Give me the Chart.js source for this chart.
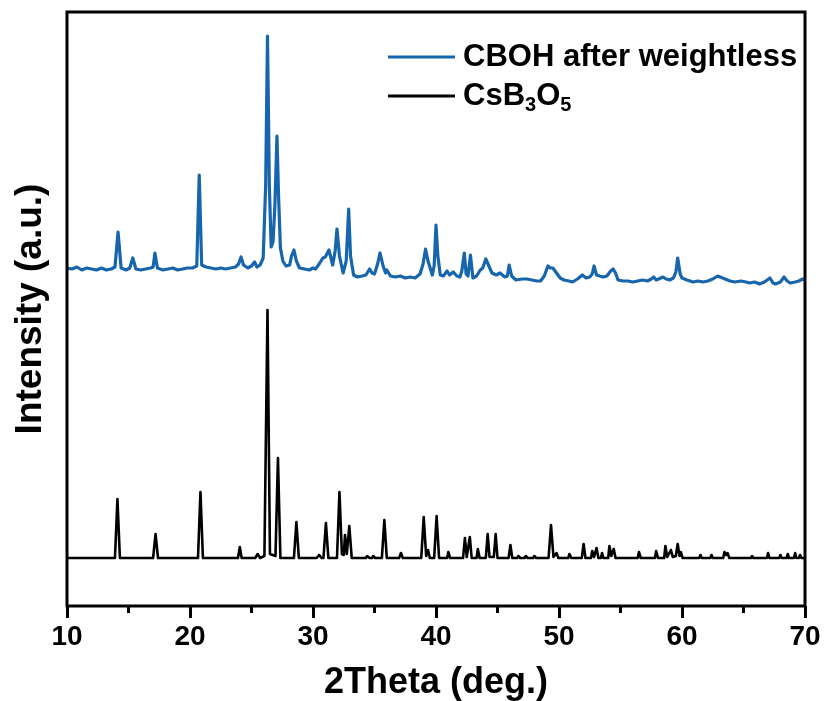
<!DOCTYPE html>
<html>
<head>
<meta charset="utf-8">
<script src="https://cdn.jsdelivr.net/npm/chart.js@4.4.0/dist/chart.umd.min.js"></script>
<style>
html, body { margin: 0; padding: 0; background: #fff; }
#wrap { width: 826px; height: 701px; position: relative; }
</style>
</head>
<body>
<div id="wrap"><canvas id="xrd"></canvas></div>
<script>
// CBOH after weightless (measured pattern, offset upward)
const blueTheta = [
    10.0, 10.4, 10.8, 11.2, 11.6, 12.0, 12.4, 12.8, 13.2, 13.6, 13.9, 14.15, 14.4, 14.8, 15.1, 15.35, 15.6,
    16.0, 16.4, 16.8, 17.0, 17.15, 17.35, 17.8, 18.2, 18.6, 19.0, 19.4, 19.8, 20.2, 20.55, 20.75, 20.95,
    21.3, 21.7, 22.1, 22.5, 22.9, 23.3, 23.7, 23.95, 24.15, 24.35, 24.7, 25.0, 25.25, 25.45, 25.7, 25.95,
    26.15, 26.3, 26.45, 26.6, 26.75, 26.9, 27.07, 27.2, 27.35, 27.55, 27.8, 28.1, 28.25, 28.45, 28.65,
    28.9, 29.3, 29.7, 30.0, 30.2, 30.5, 30.8, 31.0, 31.3, 31.6, 31.8, 31.95, 32.15, 32.45, 32.7, 32.9,
    33.05, 33.3, 33.6, 34.0, 34.3, 34.6, 34.8, 35.0, 35.25, 35.45, 35.7, 35.9, 36.0, 36.3, 36.7, 37.1,
    37.5, 37.9, 38.3, 38.7, 38.95, 39.15, 39.35, 39.7, 39.85, 40.0, 40.15, 40.35, 40.6, 40.9, 41.1, 41.4,
    41.7, 41.95, 42.1, 42.3, 42.45, 42.6, 42.8, 43.0, 43.3, 43.6, 43.8, 44.05, 44.3, 44.55, 44.9, 45.2,
    45.6, 45.8, 45.95, 46.15, 46.5, 47.0, 47.4, 47.8, 48.2, 48.5, 48.8, 49.1, 49.3, 49.5, 49.8, 50.1,
    50.4, 50.8, 51.1, 51.5, 51.9, 52.2, 52.5, 52.7, 52.85, 53.05, 53.3, 53.6, 53.9, 54.2, 54.4, 54.6,
    54.8, 55.2, 55.6, 56.0, 56.4, 56.8, 57.2, 57.5, 57.7, 57.9, 58.1, 58.45, 58.7, 59.0, 59.3, 59.5,
    59.65, 59.85, 60.0, 60.4, 60.9, 61.3, 61.7, 62.1, 62.5, 62.9, 63.3, 63.9, 64.3, 64.8, 65.2, 65.5,
    65.9, 66.3, 66.7, 67.15, 67.4, 67.6, 68.0, 68.3, 68.55, 68.8, 69.2, 69.5, 69.8, 70.0
]
const blueCounts = [
    338, 337, 339, 336, 338, 337, 336, 338, 336, 337, 339, 374, 338, 336, 338, 348, 337,
    336, 337, 338, 339, 353, 338, 336, 337, 338, 336, 337, 338, 338, 340, 431, 341,
    339, 338, 337, 338, 337, 338, 339, 342, 349, 341, 338, 340, 344, 339, 341, 348,
    420, 570, 420, 359, 364, 400, 470, 410, 358, 345, 340, 341, 350, 356, 345,
    338, 337, 336, 338, 337, 342, 348, 349, 356, 341, 355, 377, 350, 333, 345, 397,
    350, 331, 329, 330, 331, 337, 333, 332, 342, 353, 340, 333, 336, 330, 329, 330,
    328, 329, 328, 332, 342, 357, 345, 331, 340, 381, 350, 331, 330, 335, 331, 334,
    330, 329, 335, 353, 332, 330, 351, 328, 330, 336, 338, 347, 340, 333, 331, 333,
    329, 330, 341, 330, 326, 327, 327, 326, 325, 325, 330, 340, 338, 338, 333, 328,
    326, 325, 324, 327, 331, 328, 329, 332, 340, 331, 330, 329, 330, 335, 337, 333,
    326, 325, 325, 324, 325, 326, 325, 327, 329, 326, 327, 329, 327, 326, 328, 334,
    348, 332, 328, 326, 324, 325, 324, 325, 327, 330, 328, 325, 324, 325, 324, 323,
    324, 322, 324, 328, 323, 322, 324, 329, 325, 323, 324, 325, 327, 326
]

// CsB3O5 reference pattern
const blackTheta = [
    10.0, 13.9, 14.1, 14.3, 17.0, 17.2, 17.4, 20.65, 20.85, 21.05, 23.9, 24.05, 24.2, 25.3, 25.5, 25.7,
    26.05, 26.3, 26.5, 26.95, 27.15, 27.35, 28.45, 28.65, 28.85, 30.3, 30.5, 30.7, 30.85, 31.05, 31.25,
    31.95, 32.15, 32.35, 32.5, 32.6, 32.75, 32.95, 33.15, 34.3, 34.4, 34.6, 34.8, 34.9, 35.05, 35.6,
    35.8, 36.0, 37.0, 37.15, 37.3, 38.8, 39.0, 39.2, 39.35, 39.5, 39.85, 40.05, 40.25, 40.9, 41.0, 41.15,
    42.2, 42.35, 42.5, 42.75, 42.9, 43.3, 43.4, 43.55, 44.05, 44.2, 44.35, 44.7, 44.85, 45.0, 45.9,
    46.05, 46.2, 46.6, 46.7, 46.85, 47.2, 47.3, 47.45, 47.9, 48.0, 48.15, 49.15, 49.35, 49.55, 49.8,
    49.95, 50.75, 50.85, 51.0, 51.85, 52.0, 52.15, 52.6, 52.7, 52.85, 53.05, 53.2, 53.4, 53.5, 53.6,
    54.0, 54.1, 54.25, 54.45, 54.6, 56.4, 56.5, 56.65, 57.8, 57.9, 58.05, 58.55, 58.65, 58.8, 59.1,
    59.25, 59.5, 59.65, 59.8, 59.9, 60.05, 61.4, 61.5, 61.6, 62.3, 62.4, 62.5, 63.35, 63.45, 63.6,
    63.7, 63.85, 65.6, 65.7, 65.8, 66.9, 67.0, 67.1, 67.9, 68.0, 68.1, 68.5, 68.6, 68.7, 69.1, 69.2,
    69.3, 69.5, 69.6, 69.7, 70.0
]
const blackCounts = [
    48, 48, 107, 48, 48, 72, 48, 48, 114, 48, 48, 59, 48, 48, 52, 48,
    50, 296, 52, 50, 148, 48, 48, 84, 48, 48, 51, 48, 48, 83, 48,
    48, 114, 52, 51, 71, 52, 80, 48, 48, 50, 48, 48, 50, 48, 48,
    86, 48, 48, 53, 48, 48, 89, 50, 56, 48, 48, 90, 48, 48, 54, 48,
    48, 68, 49, 69, 48, 48, 57, 48, 48, 72, 49, 49, 72, 48, 48,
    61, 48, 48, 50, 48, 48, 50, 48, 48, 50, 48, 48, 81, 49, 53,
    48, 48, 52, 48, 48, 62, 48, 48, 55, 49, 58, 48, 48, 53, 48,
    48, 60, 50, 57, 48, 48, 54, 48, 48, 55, 48, 48, 60, 49, 56,
    49, 50, 62, 50, 54, 48, 48, 51, 48, 48, 51, 48, 48, 54, 51,
    53, 48, 48, 50, 48, 48, 53, 48, 48, 51, 48, 48, 52, 48, 48, 53,
    48, 48, 51, 48, 48
]

const xTicks = [10, 20, 30, 40, 50, 60, 70]
const xMinorTicks = [15, 25, 35, 45, 55, 65]

const SERIES_NAMES = ['CBOH after weightless', 'CsB3O5']
const SERIES_COLORS = ['#1766ad', '#000000']

const FONT_BOLD = "'Liberation Sans', Arial, sans-serif"

// -- cadre, graduations secondaires et légende --
const framePlugin = {
    id: 'frame',
    afterDraw(chart) {
        const ctx = chart.ctx
        const a = chart.chartArea
        const xs = chart.scales.x
        ctx.save()
        ctx.strokeStyle = '#000'
        ctx.lineWidth = 3
        ctx.strokeRect(a.left, a.top, a.right - a.left, a.bottom - a.top)

        // petites graduations
        ctx.beginPath()
        xMinorTicks.forEach(v => {
            const px = xs.getPixelForValue(v)
            ctx.moveTo(px, a.bottom)
            ctx.lineTo(px, a.bottom + 7)
        })
        ctx.stroke()

        // légende
        const lx0 = 388, lx1 = 455, tx = 463
        const rows = [57, 96]
        rows.forEach((y, i) => {
            ctx.strokeStyle = SERIES_COLORS[i]
            ctx.lineWidth = 3
            ctx.beginPath()
            ctx.moveTo(lx0, y)
            ctx.lineTo(lx1, y)
            ctx.stroke()
        })
        ctx.fillStyle = '#000'
        ctx.textBaseline = 'middle'
        ctx.textAlign = 'left'
        ctx.font = 'bold 31px ' + FONT_BOLD
        ctx.fillText(SERIES_NAMES[0], tx, rows[0])

        // CsB3O5 avec indices
        const parts = [['CsB', false], ['3', true], ['O', false], ['5', true]]
        let x = tx
        parts.forEach(([t, sub]) => {
            ctx.font = sub ? 'bold 20px ' + FONT_BOLD : 'bold 31px ' + FONT_BOLD
            ctx.fillText(t, x, rows[1] + (sub ? 9 : 0))
            x += ctx.measureText(t).width
        })
        ctx.restore()
    }
}

const toPoints = (xs, ys) => xs.map((v, i) => ({ x: v, y: ys[i] }))

new Chart(document.getElementById('xrd'), {
    type: 'line',
    data: {
        datasets: [
            {
                label: SERIES_NAMES[0],
                data: toPoints(blueTheta, blueCounts),
                borderColor: SERIES_COLORS[0],
                borderWidth: 3.2,
                borderJoinStyle: 'round',
                pointRadius: 0,
                tension: 0
            },
            {
                label: SERIES_NAMES[1],
                data: toPoints(blackTheta, blackCounts),
                borderColor: SERIES_COLORS[1],
                borderWidth: 2.6,
                borderJoinStyle: 'round',
                pointRadius: 0,
                tension: 0
            }
        ]
    },
    options: {
        responsive: true,
        maintainAspectRatio: false,
        animation: false,
        devicePixelRatio: 1,
        layout: { padding: { top: 12, right: 21, left: 0, bottom: 0 } },
        plugins: {
            legend: { display: false },
            tooltip: { enabled: false }
        },
        scales: {
            x: {
                type: 'linear',
                position: 'bottom',
                min: 10,
                max: 70,
                afterBuildTicks: s => { s.ticks = xTicks.map(v => ({ value: v })) },
                afterFit: s => { s.height = 95 },
                ticks: {
                    color: '#000',
                    padding: 2,
                    maxRotation: 0,
                    font: { family: FONT_BOLD, size: 28, weight: 'bold' }
                },
                grid: {
                    display: true,
                    drawOnChartArea: false,
                    drawTicks: true,
                    tickLength: 12,
                    tickWidth: 3,
                    tickColor: '#000'
                },
                border: { display: false },
                title: {
                    display: true,
                    text: '2Theta (deg.)',
                    color: '#000',
                    padding: 0,
                    font: { family: FONT_BOLD, size: 36, weight: 'bold', lineHeight: 1.0 }
                }
            },
            y: {
                min: 0,
                max: 594,
                afterFit: s => { s.width = 67 },
                ticks: { display: false },
                grid: { display: false, drawTicks: false },
                border: { display: false },
                title: {
                    display: true,
                    text: 'Intensity (a.u.)',
                    color: '#000',
                    padding: { top: 12, bottom: 0 },
                    font: { family: FONT_BOLD, size: 37, weight: 'bold', lineHeight: 1.0 }
                }
            }
        }
    },
    plugins: [framePlugin]
})
</script>
</body>
</html>
